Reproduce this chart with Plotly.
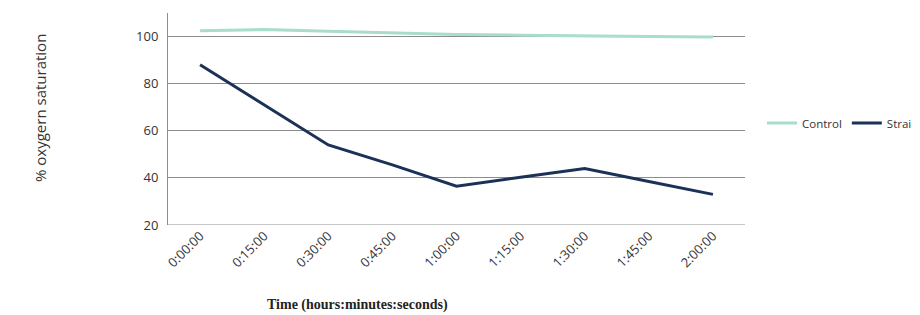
import plotly.graph_objects as go

times = ["0:00:00", "0:15:00", "0:30:00", "0:45:00", "1:00:00", "1:15:00", "1:30:00", "1:45:00", "2:00:00"]
control = [102.5, 103.0, 102.3, 101.5, 100.9, 100.6, 100.2, 100.0, 99.8]
strain = [88.0, 71.0, 54.0, 45.5, 36.5, 40.3, 44.0, 38.5, 33.0]

W, H = 912, 307
L, R, T, B = 160, 175, 5, 90

fig = go.Figure()
fig.add_trace(go.Scatter(x=list(range(len(times))), y=control, mode="lines", name="Control",
                         line=dict(color="#a8dccd", width=3)))
fig.add_trace(go.Scatter(x=list(range(len(times))), y=strain, mode="lines", name="Strain",
                         line=dict(color="#1c3157", width=3)))

fig.update_layout(
    width=W, height=H,
    margin=dict(l=L, r=R, t=T, b=B, autoexpand=False),
    paper_bgcolor="white", plot_bgcolor="white",
    font=dict(family="Open Sans, sans-serif", color="#333333"),
    showlegend=True,
    legend=dict(orientation="h", xref="container", x=754 / W, xanchor="left",
                y=0.481, yanchor="middle",
                font=dict(size=11.5, color="#333333"), itemwidth=30, tracegroupgap=0,
                bgcolor="rgba(0,0,0,0)"),
)
fig.update_xaxes(
    tickmode="array", tickvals=list(range(len(times))), ticktext=times,
    range=[-0.5, 8.5], tickangle=-45, showgrid=False, zeroline=False,
    showline=False, ticks="", tickfont=dict(size=13, color="#333333"),
    automargin=False,
)
fig.update_yaxes(
    range=[20, 110], tickvals=[20, 40, 60, 80, 100], showgrid=True,
    gridcolor="#8c8c8c", gridwidth=1, zeroline=False,
    showline=True, linecolor="#8c8c8c", linewidth=1, ticks="",
    tickfont=dict(size=13, color="#333333"), ticklabelstandoff=6,
    automargin=False,
)
# bottom axis line at 20
fig.add_shape(type="line", xref="paper", yref="y", x0=0, x1=1, y0=20, y1=20,
              line=dict(color="#8c8c8c", width=1))

pw = W - L - R
ph = H - T - B
fig.add_annotation(text="% oxygern saturation", xref="paper", yref="paper",
                   x=(32 - L) / pw, y=(ph + T - 100) / ph, textangle=-90, showarrow=False,
                   xanchor="center", yanchor="middle",
                   font=dict(size=15, color="#333333", family="Open Sans, sans-serif"))
fig.add_annotation(text="<b>Time (hours:minutes:seconds)</b>", xref="paper", yref="paper",
                   x=(349 - L) / pw, y=(ph + T - 297) / ph, xanchor="center", yanchor="middle",
                   showarrow=False,
                   font=dict(size=14, color="#222222", family="Liberation Serif, Times New Roman, serif"))

fig.write_html("out.html")
